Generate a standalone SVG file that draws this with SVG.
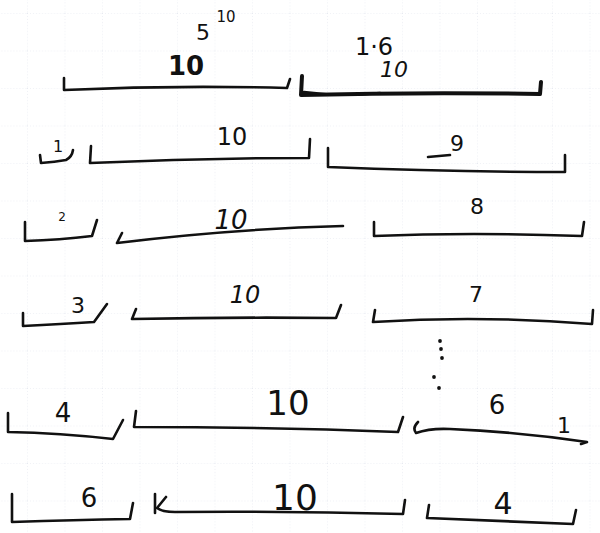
<svg xmlns="http://www.w3.org/2000/svg" width="600" height="533" viewBox="0 0 600 533">
<defs>
<pattern id="grid" x="27" y="13" width="37.5" height="37.5" patternUnits="userSpaceOnUse">
<path d="M0,0 H37.5 M0,0 V37.5" fill="none" stroke="#dfe2ec" stroke-width="1" stroke-dasharray="1 2"/>
</pattern>
</defs>
<style>
.b{fill:none;stroke:#111;stroke-width:2.6;stroke-linecap:round;stroke-linejoin:round}
.bt{fill:none;stroke:#111;stroke-width:4;stroke-linecap:round;stroke-linejoin:round}
.t{font-family:"DejaVu Sans","Liberation Sans",sans-serif;fill:#111;text-anchor:middle}
.d{fill:#111}
</style>
<rect width="600" height="533" fill="#fff"/>
<rect width="600" height="533" fill="url(#grid)"/>

<g id="row1">
<text class="t" x="203" y="40" font-size="22">5</text>
<text class="t" x="226" y="22" font-size="15">10</text>
<text class="t" x="186" y="75" font-size="26" font-weight="bold">10</text>
<path class="b" d="M64,78 L64,90 Q175,85 287,88 L290,79"/>
<text class="t" x="374" y="55" font-size="24">1·6</text>
<text class="t" x="394" y="77" font-size="22" font-style="italic">10</text>
<path class="bt" d="M302,76 L301,95 Q420,92 540,94 L541,82"/>
<path class="b" d="M304,92 Q340,97 380,93"/>
</g>

<g id="row2">
<text class="t" x="58" y="152" font-size="16">1</text>
<path class="b" d="M40,155 L41,163 Q55,162 66,160 Q72,157 73,150"/>
<path class="b" d="M91,146 L90,163 Q200,158 309,158 L310,139"/>
<text class="t" x="232" y="145" font-size="24">10</text>
<path class="b" d="M328,148 L328,167 Q450,172 565,172 L565,155"/>
<text class="t" x="457" y="151" font-size="22">9</text>
<path class="b" d="M428,157 L450,155"/>
</g>

<g id="row3">
<text class="t" x="62" y="221" font-size="12">2</text>
<path class="b" d="M25,222 L25,241 Q60,240 92,236 L97,220"/>
<path class="b" d="M122,233 L117,243 Q230,229 343,226"/>
<text class="t" x="231" y="229" font-size="26" font-style="italic">10</text>
<path class="b" d="M374,222 L374,236 Q470,232 582,236 L584,222"/>
<text class="t" x="477" y="214" font-size="22">8</text>
</g>

<g id="row4">
<text class="t" x="78" y="313" font-size="22">3</text>
<path class="b" d="M23,313 L23,326 Q62,324 94,322 L107,304"/>
<path class="b" d="M136,309 L132,319 Q230,317 336,318 L341,305"/>
<text class="t" x="245" y="303" font-size="24" font-style="italic">10</text>
<path class="b" d="M375,310 L373,322 Q480,315 592,324 L593,310"/>
<text class="t" x="476" y="302" font-size="22">7</text>
<circle class="d" cx="440" cy="341" r="1.9"/>
<circle class="d" cx="441" cy="349" r="1.9"/>
<circle class="d" cx="442" cy="358" r="1.9"/>
<circle class="d" cx="434" cy="377" r="1.9"/>
<circle class="d" cx="439" cy="388" r="1.9"/>
</g>

<g id="row5">
<text class="t" x="63" y="422" font-size="26">4</text>
<path class="b" d="M8,413 L8,432 Q60,433 113,439 L123,420"/>
<path class="b" d="M136,411 L134,427 Q270,427 398,432 L403,417"/>
<text class="t" x="288" y="415" font-size="34">10</text>
<path class="b" d="M418,422 Q412,428 416,433 Q430,428 450,429 Q520,432 587,442 L581,444"/>
<text class="t" x="497" y="414" font-size="26">6</text>
<text class="t" x="564" y="433" font-size="22">1</text>
</g>

<g id="row6">
<text class="t" x="89" y="507" font-size="26">6</text>
<path class="b" d="M12,494 L12,522 Q75,520 130,519 L133,503"/>
<path class="b" d="M155,494 L155,513"/>
<path class="b" d="M166,497 L157,508 Q162,512 175,512 Q290,511 403,514 L405,500"/>
<text class="t" x="295" y="510" font-size="36">10</text>
<path class="b" d="M429,505 L427,518 Q500,521 573,524 L576,510"/>
<text class="t" x="503" y="514" font-size="30">4</text>
</g>
</svg>
